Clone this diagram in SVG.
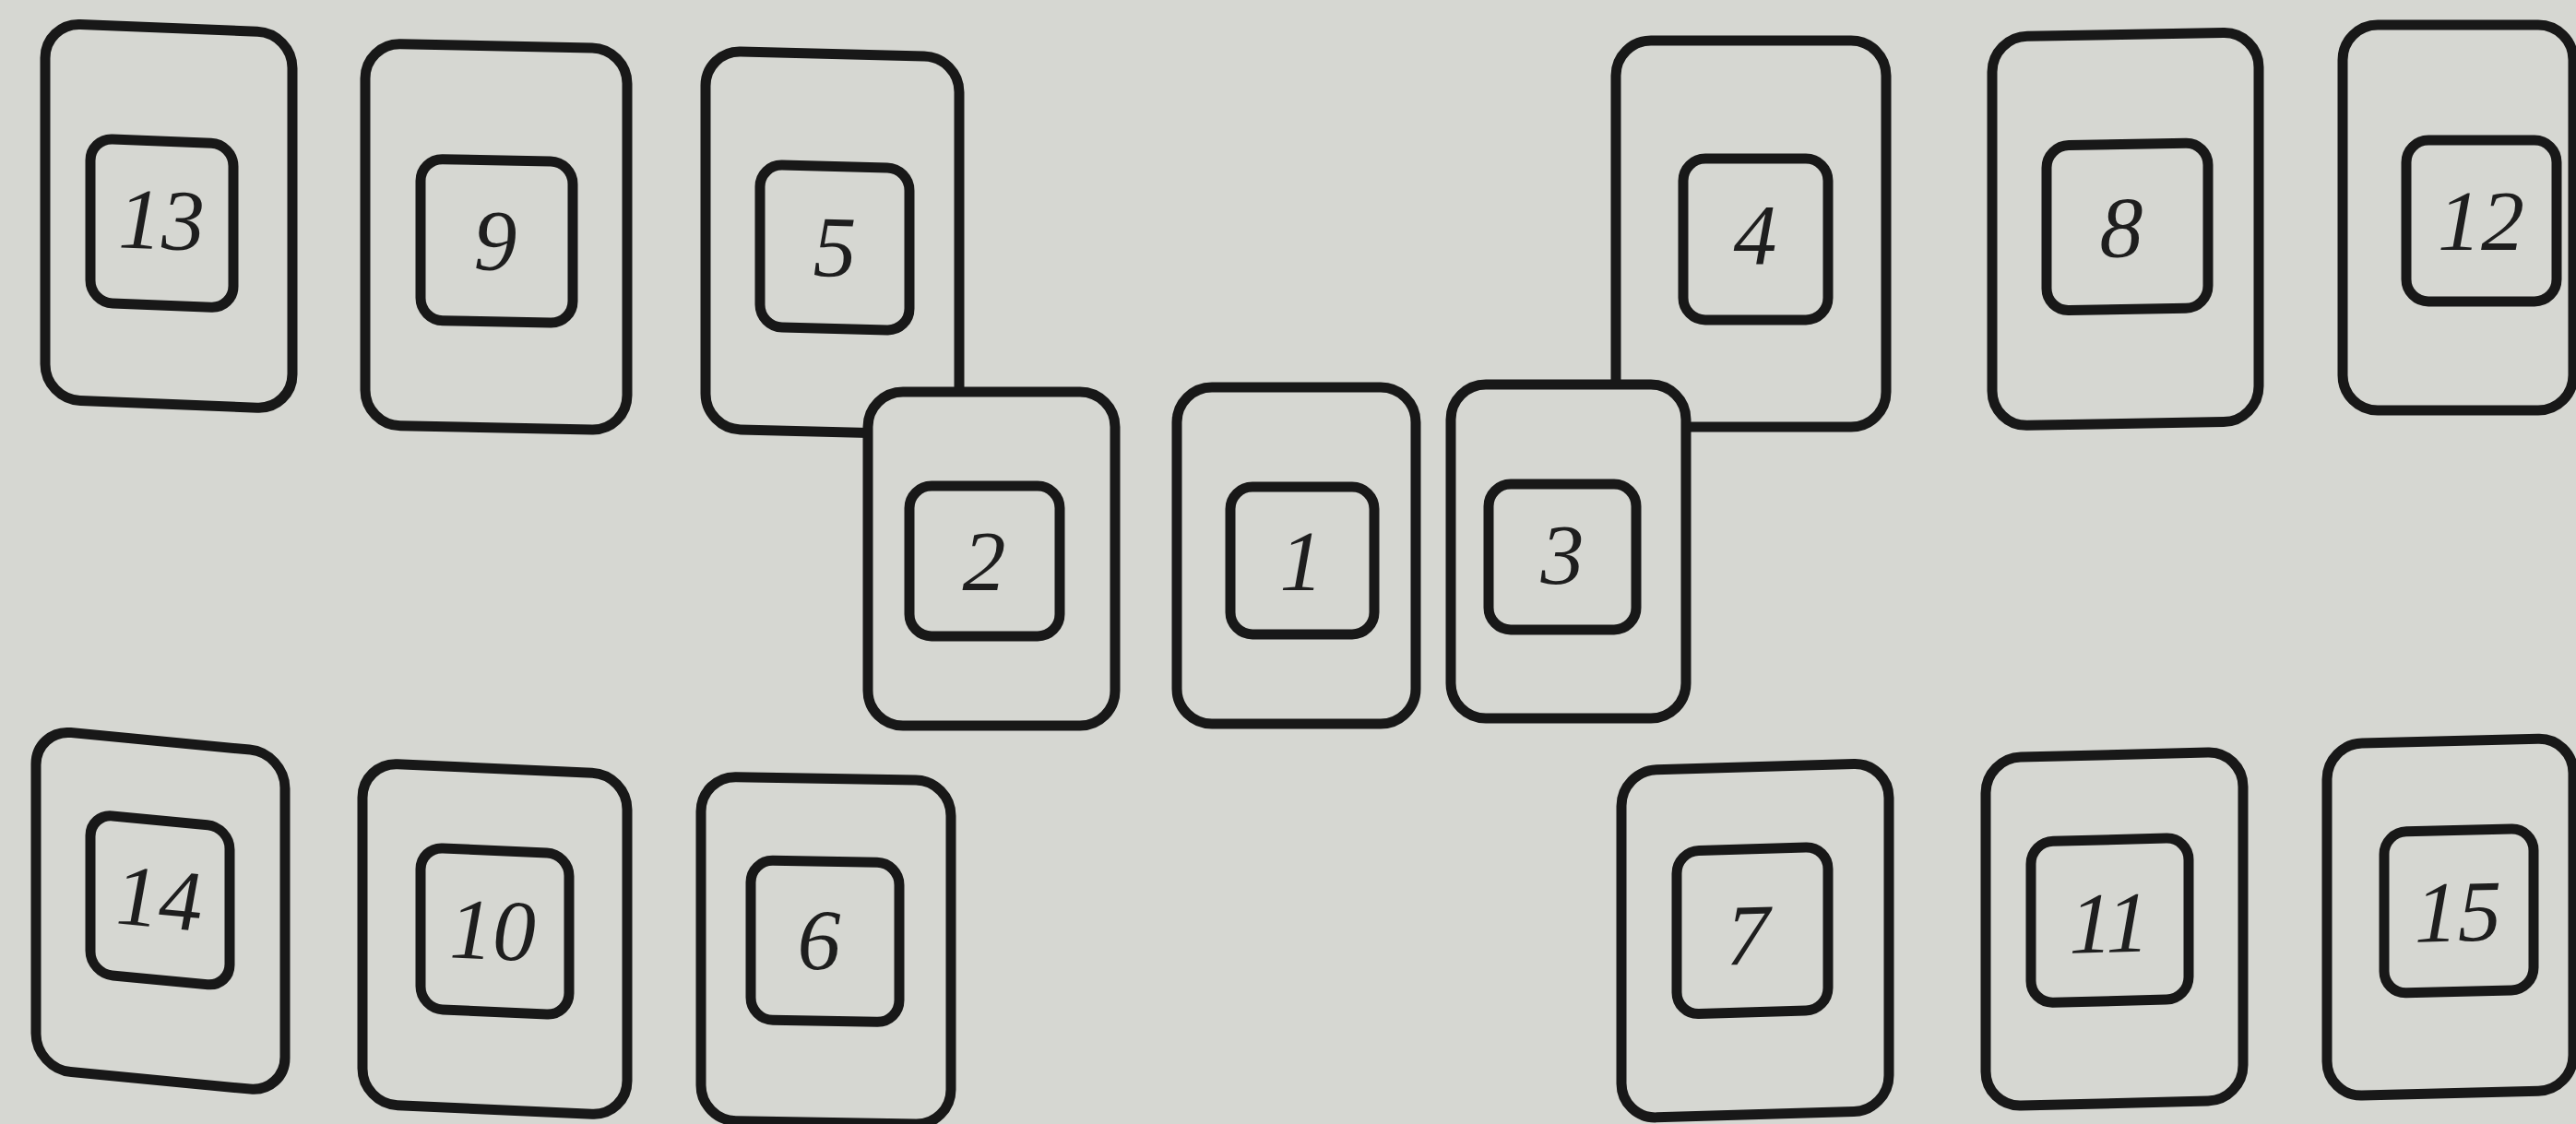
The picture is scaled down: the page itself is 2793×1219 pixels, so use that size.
<svg xmlns="http://www.w3.org/2000/svg" width="2793" height="1219" viewBox="0 0 2793 1219">
<style>
.o{fill:#d6d7d2;stroke:#181818;stroke-width:11}
.i{fill:none;stroke:#181818;stroke-width:11}
.t{font-family:"Liberation Serif","Times New Roman",serif;font-style:italic;font-size:94px;fill:#1e1e1e;text-anchor:middle}
</style>
<rect x="0" y="0" width="2793" height="1219" fill="#d6d7d2"/>
<g id="connectors"></g>
<g id="card-13" transform="translate(49 0) skewY(2.29) translate(-49 0)">
<rect class="o" x="49" y="25" width="268" height="408" rx="38"/>
<rect class="i" x="98" y="148" width="155" height="178" rx="24"/>
<text class="t" x="175" y="265">13</text>
</g>
<g id="card-9" transform="translate(396 0) skewY(1.15) translate(-396 0)">
<rect class="o" x="396" y="47" width="284" height="414" rx="38"/>
<rect class="i" x="456" y="171" width="165" height="175" rx="24"/>
<text class="t" x="537" y="290">9</text>
</g>
<g id="card-5" transform="translate(765 0) skewY(1.43) translate(-765 0)">
<rect class="o" x="765" y="55" width="275" height="410" rx="38"/>
<rect class="i" x="824" y="177" width="162" height="176" rx="24"/>
<text class="t" x="905" y="296">5</text>
</g>
<g id="card-4">
<rect class="o" x="1752" y="44" width="293" height="419" rx="38"/>
<rect class="i" x="1825" y="172" width="157" height="175" rx="24"/>
<text class="t" x="1903" y="286">4</text>
</g>
<g id="card-8" transform="translate(2160 0) skewY(-1) translate(-2160 0)">
<rect class="o" x="2160" y="40" width="289" height="422" rx="38"/>
<rect class="i" x="2219" y="159" width="175" height="179" rx="24"/>
<text class="t" x="2300" y="281">8</text>
</g>
<g id="card-12">
<rect class="o" x="2540" y="27" width="250" height="418" rx="38"/>
<rect class="i" x="2609" y="152" width="163" height="175" rx="24"/>
<text class="t" x="2690" y="271">12</text>
</g>
<g id="card-2">
<rect class="o" x="941" y="425" width="268" height="362" rx="38"/>
<rect class="i" x="986" y="527" width="163" height="163" rx="24"/>
<text class="t" x="1067" y="640">2</text>
</g>
<g id="card-1">
<rect class="o" x="1276" y="420" width="259" height="365" rx="38"/>
<rect class="i" x="1334" y="528" width="156" height="160" rx="24"/>
<text class="t" x="1411" y="640">1</text>
</g>
<g id="card-3">
<rect class="o" x="1573" y="417" width="255" height="362" rx="38"/>
<rect class="i" x="1614" y="525" width="160" height="158" rx="24"/>
<text class="t" x="1694" y="633">3</text>
</g>
<g id="card-14" transform="translate(39 0) skewY(5.43) translate(-39 0)">
<rect class="o" x="39" y="791" width="270" height="368" rx="38"/>
<rect class="i" x="98" y="877" width="151" height="173" rx="24"/>
<text class="t" x="172" y="993">14</text>
</g>
<g id="card-10" transform="translate(393 0) skewY(2.58) translate(-393 0)">
<rect class="o" x="393" y="827" width="287" height="370" rx="38"/>
<rect class="i" x="456" y="916" width="161" height="175" rx="24"/>
<text class="t" x="534" y="1034">10</text>
</g>
<g id="card-6" transform="translate(760 0) skewY(1) translate(-760 0)">
<rect class="o" x="760" y="842" width="271" height="373" rx="38"/>
<rect class="i" x="814" y="932" width="161" height="173" rx="24"/>
<text class="t" x="888" y="1049">6</text>
</g>
<g id="card-7" transform="translate(1758 0) skewY(-1.7) translate(-1758 0)">
<rect class="o" x="1758" y="836" width="290" height="377" rx="38"/>
<rect class="i" x="1818" y="925" width="164" height="177" rx="24"/>
<text class="t" x="1895" y="1050">7</text>
</g>
<g id="card-11" transform="translate(2153 0) skewY(-1.43) translate(-2153 0)">
<rect class="o" x="2153" y="822" width="279" height="378" rx="38"/>
<rect class="i" x="2202" y="914" width="171" height="175" rx="24"/>
<text class="t" x="2287" y="1036">11</text>
</g>
<g id="card-15" transform="translate(2523 0) skewY(-1.43) translate(-2523 0)">
<rect class="o" x="2523" y="807" width="267" height="382" rx="38"/>
<rect class="i" x="2585" y="904" width="162" height="175" rx="24"/>
<text class="t" x="2665" y="1024">15</text>
</g>
</svg>
